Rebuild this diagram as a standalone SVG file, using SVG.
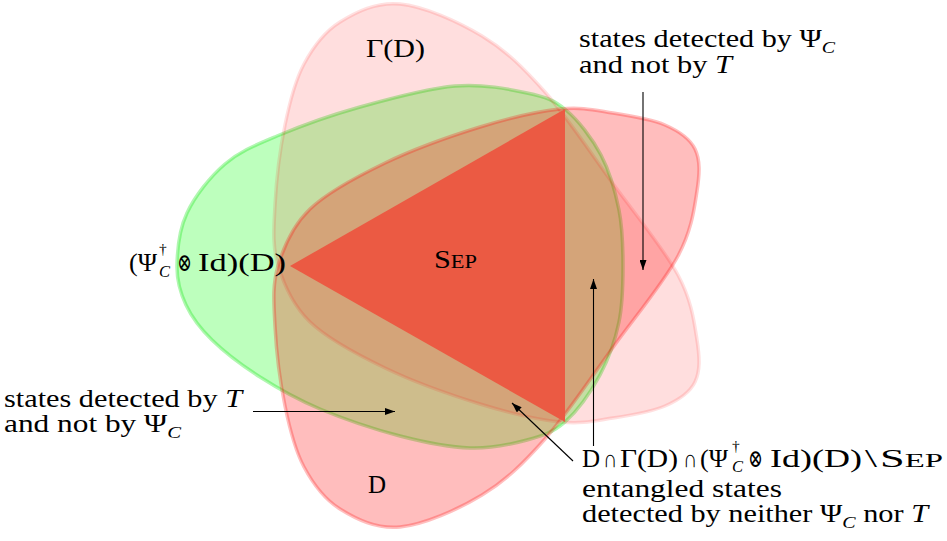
<svg xmlns="http://www.w3.org/2000/svg" width="947" height="541" viewBox="0 0 947 541">
<style>
.t{font-family:"Liberation Serif","DejaVu Serif",serif;font-size:25px;fill:#000}
.sub{font-size:16.5px;font-style:italic}
.sup{font-size:15.5px}
.it{font-style:italic}
.sc{font-size:18.5px}
.conn{stroke:#000;stroke-width:1.1;fill:none;marker-end:url(#ah)}
</style>
<defs>
<marker id="ah" viewBox="0 0 10 7" refX="10" refY="3.5" markerWidth="10" markerHeight="7" markerUnits="userSpaceOnUse" orient="auto"><path d="M0,0 L10,3.5 L0,7 z" fill="#000"/></marker>
<path id="egg" d="M400,4 C423.7,6.3 457.8,21.3 482,36 C506.2,50.7 523,67.2 545,92 C567,116.8 591.8,154.5 614,185 C636.2,215.5 664.2,249.2 678,275 C691.8,300.8 694.2,322.2 697,340 C699.8,357.8 700.3,371 695,382 C689.7,393 678.7,400 665,406 C651.3,412 630.5,415.3 613,418 C595.5,420.7 582.2,424.3 560,422 C537.8,419.7 509.2,413 480,404 C450.8,395 413.3,381.7 385,368 C356.7,354.3 327.8,339.2 310,322 C292.2,304.8 283.8,284.5 278,265 C272.2,245.5 273.8,228.3 275,205 C276.2,181.7 280.2,148.5 285,125 C289.8,101.5 294.8,81.2 304,64 C313.2,46.8 324,32 340,22 C356,12 376.3,1.7 400,4 Z"/>
</defs>
<rect width="947" height="541" fill="#fff"/>
<g id="psi-set">
<path d="M177,266 C177.2,250.7 179,230 187,213 C195,196 210,176.8 225,164 C240,151.2 254.5,145.5 277,136 C299.5,126.5 330.3,115.3 360,107 C389.7,98.7 427.2,88.3 455,86 C482.8,83.7 508.5,89 527,93 C545.5,97 553.7,99.7 566,110 C578.3,120.3 592.2,138.3 601,155 C609.8,171.7 615.3,191.5 619,210 C622.7,228.5 623,247.3 623,266 C623,284.7 622.8,303.8 619,322 C615.2,340.2 609,358.3 600,375 C591,391.7 577.2,411.2 565,422 C552.8,432.8 542.8,435.7 527,440 C511.2,444.3 491.2,448.7 470,448 C448.8,447.3 425,442.5 400,436 C375,429.5 343.3,418.8 320,409 C296.7,399.2 278,388.5 260,377 C242,365.5 224.3,352 212,340 C199.7,328 191.8,317.3 186,305 C180.2,292.7 176.8,281.3 177,266 Z" fill="#00ff00" fill-opacity="0.26" stroke="#00e000" stroke-opacity="0.3" stroke-width="3.5"/>
</g>
<g id="gamma-set">
<use href="#egg" fill="#ff0000" fill-opacity="0.13" stroke="#ff0000" stroke-opacity="0.12" stroke-width="3.5"/>
</g>
<g id="d-set">
<use href="#egg" transform="matrix(1 0 0 -1 0 531)" fill="#ff0000" fill-opacity="0.26" stroke="#ff0000" stroke-opacity="0.25" stroke-width="3.5"/>
</g>
<g id="sep-set">
<polygon points="290,266 565,109 565,422" fill="#eb5a43"/>
</g>
<g id="connectors">
<line class="conn" x1="643" y1="92" x2="643" y2="270"/>
<line class="conn" x1="593.5" y1="446" x2="593.5" y2="279"/>
<line class="conn" x1="573" y1="461" x2="512" y2="403"/>
<line class="conn" x1="253" y1="411.5" x2="395" y2="411.5"/>
</g>
<g id="label-gamma"><text class="t" x="366" y="57" textLength="59" lengthAdjust="spacingAndGlyphs">Γ(D)</text></g>
<g id="label-psi">
<text class="t"><tspan x="129" y="271" textLength="28" lengthAdjust="spacingAndGlyphs">(Ψ</tspan><tspan class="sup" x="159" y="254">†</tspan><tspan class="sub" x="159" y="277">C</tspan><tspan x="177" y="271" textLength="15" lengthAdjust="spacingAndGlyphs">⊗</tspan><tspan x="198" y="271" textLength="88" lengthAdjust="spacingAndGlyphs">Id)(D)</tspan></text>
</g>
<g id="label-sep"><text class="t" x="434" y="268" textLength="43" lengthAdjust="spacingAndGlyphs">S<tspan class="sc">EP</tspan></text></g>
<g id="label-d"><text class="t" x="368" y="493">D</text></g>
<g id="note-psi-not-t">
<text class="t" x="579" y="47" textLength="256" lengthAdjust="spacingAndGlyphs">states detected by Ψ<tspan class="sub" dy="6">C</tspan></text>
<text class="t" x="579" y="73" textLength="153" lengthAdjust="spacingAndGlyphs">and not by <tspan class="it">T</tspan></text>
</g>
<g id="note-t-not-psi">
<text class="t" x="4" y="407" textLength="238" lengthAdjust="spacingAndGlyphs">states detected by <tspan class="it">T</tspan></text>
<text class="t" x="4" y="432" textLength="177" lengthAdjust="spacingAndGlyphs">and not by Ψ<tspan class="sub" dy="6">C</tspan></text>
</g>
<g id="note-entangled">
<text class="t"><tspan x="582" y="467">D</tspan><tspan x="603" y="467" textLength="14" lengthAdjust="spacingAndGlyphs">∩</tspan><tspan x="620" y="467" textLength="58" lengthAdjust="spacingAndGlyphs">Γ(D)</tspan><tspan x="683" y="467" textLength="14" lengthAdjust="spacingAndGlyphs">∩</tspan><tspan x="700" y="467" textLength="28" lengthAdjust="spacingAndGlyphs">(Ψ</tspan><tspan class="sup" x="732" y="451">†</tspan><tspan class="sub" x="732" y="472">C</tspan><tspan x="748" y="467" textLength="15" lengthAdjust="spacingAndGlyphs">⊗</tspan><tspan x="770" y="467" textLength="92" lengthAdjust="spacingAndGlyphs">Id)(D)</tspan><tspan x="865" y="467" textLength="12" lengthAdjust="spacingAndGlyphs">\</tspan><tspan x="880" y="467" textLength="63" lengthAdjust="spacingAndGlyphs">S<tspan class="sc">EP</tspan></tspan></text>
<text class="t" x="582" y="497" textLength="200" lengthAdjust="spacingAndGlyphs">entangled states</text>
<text class="t" x="582" y="522" textLength="346" lengthAdjust="spacingAndGlyphs">detected by neither Ψ<tspan class="sub" dy="6">C</tspan><tspan dy="-6"> nor </tspan><tspan class="it">T</tspan></text>
</g>
</svg>
